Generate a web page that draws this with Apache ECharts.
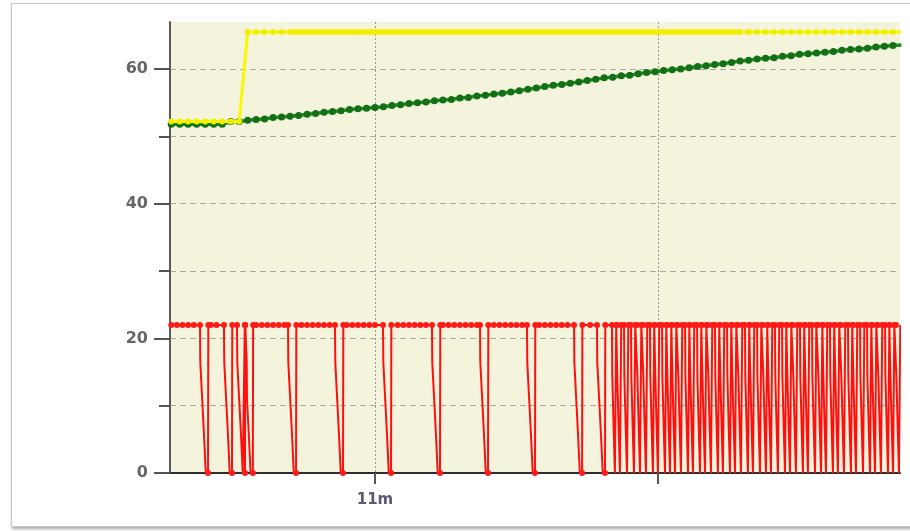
<!DOCTYPE html>
<html>
<head>
<meta charset="utf-8">
<script src="https://cdn.jsdelivr.net/npm/echarts@6.0.0/dist/echarts.min.js"></script>
<style>
  html, body { margin: 0; padding: 0; background: #ffffff; }
  #wrap { position: relative; width: 910px; height: 531px; overflow: hidden; }
  #frame {
    position: absolute; left: 11px; top: 3px; width: 930px; height: 522px;
    border: 1px solid #c8c8c8; background: #ffffff;
    box-shadow: 1px 2px 3px rgba(0,0,0,0.35);
  }
  #chart { position: absolute; left: 0; top: 0; width: 910px; height: 531px; }
</style>
</head>
<body>
<div id="wrap">
  <div id="frame"></div>
  <div id="chart"></div>
</div>
<script>
// Time base (seconds) shared by the sampled series
const sampleStart = 638.4;
const samplePeriod = 0.9;
const redPeriod = 0.6;

// Axis ticks
const xTickValues = [660, 690];
const xTickLabels = ['11m', ''];
const yMajorValues = [0, 20, 40, 60];
const yMinorValues = [10, 30, 50];

// Green trace, one value per sample
const greenValues = [
  51.8, 51.8, 51.8, 51.8, 51.8, 51.8, 51.8, 52.2, 52.2, 52.4,
  52.5, 52.6, 52.8, 52.9, 53.0, 53.1, 53.3, 53.4, 53.6, 53.7,
  53.8, 54.0, 54.1, 54.2, 54.3, 54.4, 54.6, 54.7, 54.9, 55.0,
  55.1, 55.3, 55.4, 55.5, 55.7, 55.8, 56.0, 56.1, 56.3, 56.4,
  56.6, 56.8, 57.0, 57.2, 57.4, 57.6, 57.7, 57.9, 58.1, 58.3,
  58.5, 58.7, 58.8, 59.0, 59.1, 59.3, 59.5, 59.6, 59.8, 59.9,
  60.0, 60.2, 60.4, 60.5, 60.7, 60.8, 61.0, 61.2, 61.3, 61.5,
  61.6, 61.7, 61.9, 62.0, 62.2, 62.3, 62.4, 62.5, 62.6, 62.8,
  62.9, 63.0, 63.1, 63.3, 63.4, 63.5, 63.6
];

// Yellow trace: runs of [sample count, value]
const yellowRuns = [[9, 52.2], [78, 65.5]];
// span where the yellow trace is sampled twice as often
const yellowDenseSpan = [651.0, 698.4];

// Red trace: resting level and the moments it drops to zero
const redHigh = 22;
const redSlowDips = [641.45, 643.99, 645.37, 646.2, 650.78, 655.76, 660.85,
  666.04, 671.13, 676.11, 681.10, 683.53];
// [seconds after the drop starts, value]
const redSlowSteps = [[0.03, 16.5], [0.20, 16.5], [0.23, 11], [0.40, 11], [0.43, 5.5],
  [0.58, 5.5], [0.61, 0], [0.85, 0], [0.88, 22]];
const redFastDips = [685.12, 685.65, 686.40, 687.14, 687.78, 688.41, 689.15, 689.68,
  690.43, 690.96, 691.49, 692.12, 692.87, 693.39, 694.14, 694.67, 695.30, 696.04,
  696.57, 697.32, 697.85, 698.48, 699.22, 699.75, 700.50, 701.13, 701.66, 702.40,
  703.15, 703.68, 704.31, 705.05, 705.58, 706.33, 706.97, 707.49, 708.23, 708.76,
  709.40, 710.14, 710.67, 711.42, 712.16, 712.69, 713.32, 714.07, 714.60, 715.23];
const redFastSteps = [[0.03, 14.5], [0.14, 14.5], [0.17, 7], [0.28, 7], [0.31, 0],
  [0.42, 0], [0.45, 22]];

// ---- build series data ----
const sampleTimes = greenValues.map((_, i) => +(sampleStart + samplePeriod * i).toFixed(3));

const greenData = greenValues.map((v, i) => [sampleTimes[i], v]);

const yellowValues = [];
yellowRuns.forEach(([n, v]) => { for (let k = 0; k < n; k++) yellowValues.push(v); });
const yellowData = [];
sampleTimes.forEach((t, i) => {
  yellowData.push([t, yellowValues[i]]);
  const tm = t + samplePeriod / 2;
  if (tm >= yellowDenseSpan[0] && tm <= yellowDenseSpan[1] && i + 1 < yellowValues.length) {
    yellowData.push([tm, yellowValues[i + 1]]);
  }
});

const redPoints = [];
const windows = [];
function addDip(start, steps, markBottom) {
  redPoints.push({ value: [start, redHigh] });
  steps.forEach(([dt, v], k) => {
    const marked = (v === redHigh) || (markBottom && k === steps.length - 2);
    redPoints.push(marked ? { value: [start + dt, v] } : { value: [start + dt, v], symbol: 'none' });
  });
  windows.push([start - 0.25, start + steps[steps.length - 1][0] + 0.25]);
}
redSlowDips.forEach(t => addDip(t, redSlowSteps, true));
redFastDips.forEach(t => addDip(t, redFastSteps, false));
for (let t = sampleStart; t < 716; t += redPeriod) {
  if (!windows.some(([a, b]) => t >= a && t <= b)) redPoints.push({ value: [t, redHigh] });
}
redPoints.sort((a, b) => a.value[0] - b.value[0]);

// ---- chart ----
const chart = echarts.init(document.getElementById('chart'), null, { renderer: 'canvas' });

const gridDash = { color: '#a8a8a0', width: 1, type: [6, 4] };

chart.setOption({
  animation: false,
  backgroundColor: 'transparent',
  grid: {
    left: 170, right: 10, top: 22, bottom: 58,
    show: true, backgroundColor: '#f4f3dc', borderWidth: 0
  },
  xAxis: {
    type: 'value',
    min: 638.27, max: 715.65,
    axisLine: { show: true, onZero: false, lineStyle: { color: '#2e2e2e', width: 2 } },
    axisTick: { show: true, customValues: xTickValues, length: 11, lineStyle: { color: '#555', width: 2 } },
    axisLabel: {
      customValues: xTickValues,
      formatter: v => xTickLabels[xTickValues.indexOf(v)] || '',
      margin: 20,
      color: '#5c5874',
      fontFamily: 'DejaVu Sans', fontWeight: 'bold', fontSize: 15
    },
    splitLine: { show: true, lineStyle: { color: '#959595', width: 1, type: [2, 2] } }
  },
  yAxis: [
    {
      type: 'value', position: 'left', min: 0, max: 67,
      axisLine: { show: true, onZero: false, lineStyle: { color: '#5a5a5a', width: 2 } },
      axisTick: { show: true, customValues: yMajorValues, length: 16, lineStyle: { color: '#555', width: 2 } },
      axisLabel: {
        customValues: yMajorValues,
        margin: 22,
        color: '#676767',
        fontFamily: 'DejaVu Sans', fontWeight: 'bold', fontSize: 16
      },
      splitLine: { show: true, lineStyle: gridDash }
    },
    {
      type: 'value', position: 'left', min: 0, max: 67,
      axisLine: { show: false },
      axisTick: { show: true, customValues: yMinorValues, length: 11, lineStyle: { color: '#555', width: 2 } },
      axisLabel: { show: false, customValues: yMinorValues },
      splitLine: { show: true, lineStyle: gridDash }
    }
  ],
  series: [
    {
      name: 'green', type: 'line', data: greenData,
      showSymbol: true, symbol: 'circle', symbolSize: 7,
      lineStyle: { color: '#1f8a24', width: 3.5 },
      itemStyle: { color: '#137016' },
      z: 3
    },
    {
      name: 'yellow', type: 'line', data: yellowData,
      showSymbol: true, symbol: 'circle', symbolSize: 6,
      lineStyle: { color: '#fbf700', width: 3 },
      itemStyle: { color: '#f2ee00' },
      z: 4
    },
    {
      name: 'red', type: 'line', data: redPoints,
      showSymbol: true, symbol: 'circle', symbolSize: 6,
      lineStyle: { color: '#ff1010', width: 2 },
      itemStyle: { color: '#ff1a1a' },
      z: 5
    }
  ]
});
</script>
</body>
</html>
